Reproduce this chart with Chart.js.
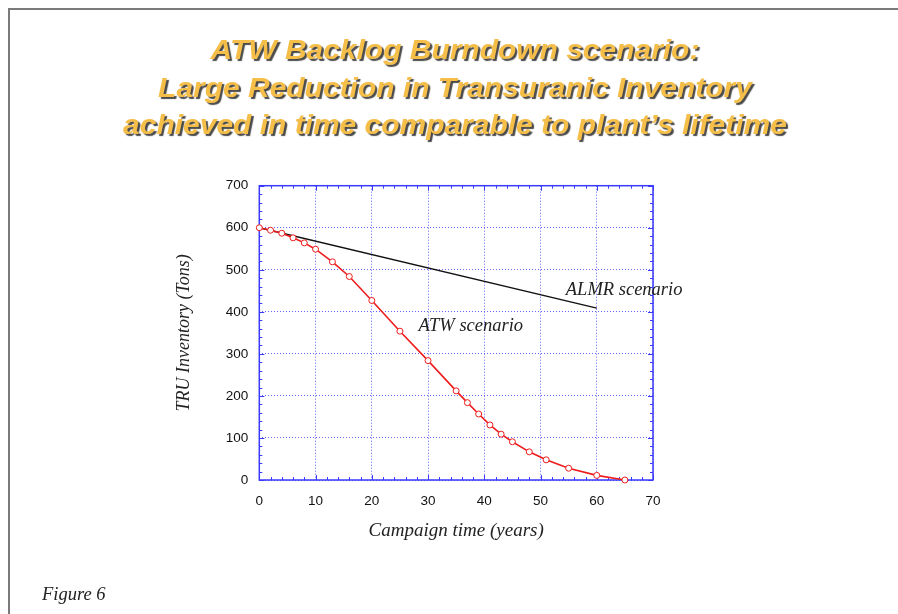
<!DOCTYPE html>
<html>
<head>
<meta charset="utf-8">
<script src="https://cdn.jsdelivr.net/npm/chart.js@4.4.1/dist/chart.umd.min.js"></script>
<style>
  html, body { margin: 0; padding: 0; background: #fff; }
  body { width: 898px; height: 614px; position: relative; overflow: hidden; }
  #frame { position: absolute; left: 8px; top: 8px; width: 900px; height: 620px;
           border-top: 2px solid #7a7a7a; border-left: 2px solid #7a7a7a; }
  #c { position: absolute; left: 0; top: 0; }
  .title { position: absolute; left: 5px; width: 900px; text-align: center;
           font-family: "Liberation Sans", Arial, sans-serif; font-weight: bold; font-style: italic;
           font-size: 28px; line-height: 30px; color: #F5BE48;
           transform: scaleX(1.07); transform-origin: 450px 0;
           text-shadow: 2px 2px 1px #4a4a4a; white-space: nowrap; }
  #fig { position: absolute; left: 42px; top: 584px; font-family: "Liberation Serif", "Times New Roman", serif;
         font-style: italic; font-size: 18.5px; color: #222; }
</style>
</head>
<body>
<div id="frame"></div>
<canvas id="c" width="898" height="614"></canvas>
<div class="title" style="top:35px">ATW Backlog Burndown scenario:</div>
<div class="title" style="top:73px">Large Reduction in Transuranic Inventory</div>
<div class="title" style="top:110px">achieved in time comparable to plant’s lifetime</div>
<div id="fig">Figure 6</div>
<script>
// ---- data ----
const atwYears = [0, 2, 4, 6, 8, 10, 13, 16, 20, 25, 30, 35, 37, 39, 41, 43, 45, 48, 51, 55, 60, 65];
const atwInventory = [600, 594, 587, 576, 564, 549, 519, 484, 427, 354, 284, 212, 184, 157, 131, 109, 91, 67, 48, 28, 11, 0];
const almrYears = [0, 60];
const almrInventory = [600, 409];
const xTicks = [0, 10, 20, 30, 40, 50, 60, 70];
const yTicks = [0, 100, 200, 300, 400, 500, 600, 700];
const seriesLabels = ["ATW scenario", "ALMR scenario"];
const labelAnchors = [[28.3, 366], [54.5, 452]];

const blue = '#3a3aff';

const framePlugin = {
  id: 'frameTicks',
  beforeDatasetsDraw(chart) {
    const {ctx, chartArea: a, scales: {x, y}} = chart;
    ctx.save();
    ctx.strokeStyle = blue;
    ctx.lineWidth = 1;
    ctx.beginPath();
    for (let v = 0; v <= 70; v += 2) {
      const px = Math.round(x.getPixelForValue(v)) + 0.5;
      const len = (v % 10 === 0) ? 5 : 3;
      ctx.moveTo(px, a.bottom); ctx.lineTo(px, a.bottom - len);
      ctx.moveTo(px, a.top); ctx.lineTo(px, a.top + len);
    }
    for (let v = 0; v <= 700; v += 20) {
      const py = Math.round(y.getPixelForValue(v)) + 0.5;
      const len = (v % 100 === 0) ? 5 : 3;
      ctx.moveTo(a.left, py); ctx.lineTo(a.left + len, py);
      ctx.moveTo(a.right, py); ctx.lineTo(a.right - len, py);
    }
    ctx.stroke();
    ctx.lineWidth = 1.5;
    ctx.strokeRect(a.left, a.top, a.right - a.left, a.bottom - a.top);
    ctx.restore();
  },
  afterDraw(chart) {
    const {ctx, scales: {x, y}} = chart;
    ctx.save();
    ctx.fillStyle = '#222';
    ctx.font = 'italic 18.5px "Liberation Serif", "Times New Roman", serif';
    ctx.textBaseline = 'middle';
    ctx.textAlign = 'left';
    seriesLabels.forEach((t, i) => {
      ctx.fillText(t, x.getPixelForValue(labelAnchors[i][0]), y.getPixelForValue(labelAnchors[i][1]));
    });
    ctx.restore();
  }
};

new Chart(document.getElementById('c'), {
  type: 'scatter',
  data: {
    datasets: [
      {
        label: seriesLabels[0],
        data: atwYears.map((t, i) => ({x: t, y: atwInventory[i]})),
        showLine: true,
        clip: false,
        borderColor: '#ee1c1c',
        borderWidth: 1.6,
        pointRadius: 3,
        pointBorderWidth: 1,
        pointBackgroundColor: '#ffffff',
        pointBorderColor: '#ee1c1c',
        tension: 0
      },
      {
        label: seriesLabels[1],
        data: almrYears.map((t, i) => ({x: t, y: almrInventory[i]})),
        showLine: true,
        clip: false,
        borderColor: '#111111',
        borderWidth: 1.3,
        pointRadius: 0,
        tension: 0
      }
    ]
  },
  options: {
    responsive: false,
    animation: false,
    devicePixelRatio: 1,
    layout: { padding: { left: 165, right: 245, top: 185.7, bottom: 60 } },
    plugins: { legend: { display: false }, tooltip: { enabled: false } },
    scales: {
      x: {
        type: 'linear', min: 0, max: 70,
        afterBuildTicks: s => { s.ticks = xTicks.map(v => ({value: v})); },
        afterFit: s => { s.height = 74; },
        ticks: { color: '#111', padding: 13, font: { family: '"Liberation Sans", Arial, sans-serif', size: 13.5 } },
        grid: { color: 'rgba(70,70,255,0.85)', lineWidth: 1, drawTicks: false },
        border: { display: false, dash: [1, 2] },
        title: { display: true, text: 'Campaign time (years)', color: '#222',
                 padding: { top: 0, bottom: 11.6 },
                 font: { family: '"Liberation Serif", "Times New Roman", serif', style: 'italic', size: 19 } }
      },
      y: {
        type: 'linear', min: 0, max: 700,
        afterBuildTicks: s => { s.ticks = yTicks.map(v => ({value: v})); },
        afterFit: s => { s.width = 94.3; },
        ticks: { color: '#111', padding: 11, font: { family: '"Liberation Sans", Arial, sans-serif', size: 13.5 } },
        grid: { color: 'rgba(70,70,255,0.85)', lineWidth: 1, drawTicks: false },
        border: { display: false, dash: [1, 2] },
        title: { display: true, text: 'TRU Inventory (Tons)', color: '#222',
                 padding: { top: 8.5, bottom: 0 },
                 font: { family: '"Liberation Serif", "Times New Roman", serif', style: 'italic', size: 18 } }
      }
    }
  },
  plugins: [framePlugin]
});
</script>
</body>
</html>
